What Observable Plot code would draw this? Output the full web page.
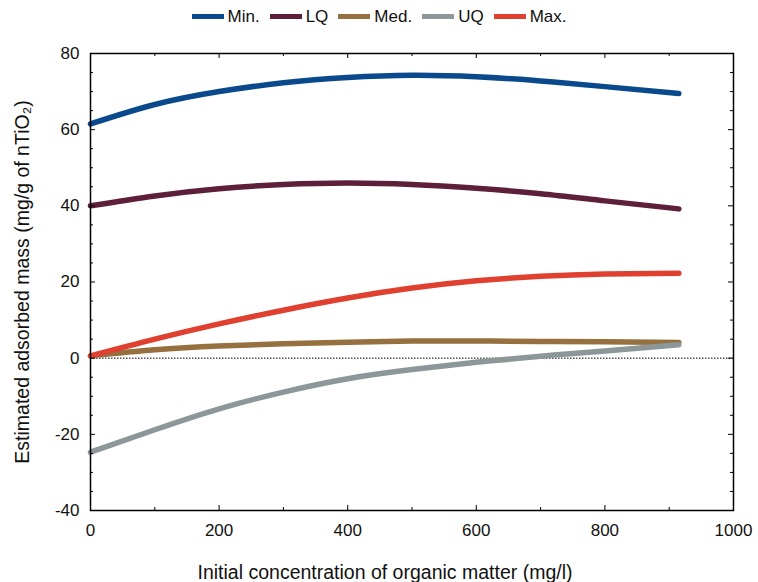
<!DOCTYPE html>
<html>
<head>
<meta charset="utf-8">
<script src="https://cdn.jsdelivr.net/npm/d3@7"></script>
<script src="https://cdn.jsdelivr.net/npm/@observablehq/plot@0.6"></script>
<style>
  html, body { margin: 0; padding: 0; background: #fff; }
  body { width: 758px; height: 582px; overflow: hidden; font-family: "Liberation Sans", Arial, sans-serif; }
  #legend { height: 30px; display: flex; justify-content: center; align-items: center; padding-top: 3px; box-sizing: border-box; font-size: 17px; color: #111; }
  .item { display: flex; align-items: center; margin: 0 5px; }
  .sw { width: 32px; height: 5px; margin-right: 4px; }
  svg { display: block; }
</style>
</head>
<body>
<div id="legend"></div>
<div id="chart"></div>
<script>
// Initial concentration of organic matter (mg/l)
const conc = [0, 100, 200, 300, 400, 500, 600, 700, 800, 915];
// Estimated adsorbed mass (mg/g of nTiO2)
const minV = [61.5, 66.6, 70.0, 72.3, 73.7, 74.3, 73.9, 72.8, 71.3, 69.5];
const lqV  = [40.0, 42.6, 44.5, 45.6, 46.0, 45.6, 44.6, 43.2, 41.3, 39.2];
const medV = [0.6, 2.2, 3.2, 3.8, 4.2, 4.5, 4.5, 4.4, 4.3, 4.1];
const uqV  = [-24.7, -18.8, -13.3, -8.9, -5.4, -3.0, -1.1, 0.5, 1.9, 3.5];
const maxV = [0.6, 5.0, 9.0, 12.6, 15.8, 18.4, 20.3, 21.5, 22.1, 22.3];

const seriesNames = ["Min.", "LQ", "Med.", "UQ", "Max."];
const seriesValues = [minV, lqV, medV, uqV, maxV];
const seriesColors = ["#0a4a8c", "#5e1f3a", "#96703f", "#8b9799", "#e0402f"];

const xTicks = [0, 200, 400, 600, 800, 1000];
const xMinorTicks = [100, 300, 500, 700, 900];
const yTicks = [-40, -20, 0, 20, 40, 60, 80];
const yMinorTicks = d3.range(-40, 81, 5).filter(v => v % 20 !== 0);

const xLabel = "Initial concentration of organic matter (mg/l)";
const yLabel = "Estimated adsorbed mass (mg/g of nTiO\u2082)";

const rows = seriesNames.flatMap((name, i) =>
  conc.map((c, j) => ({series: name, x: c, y: seriesValues[i][j]})));

// legend
const legend = document.getElementById("legend");
seriesNames.forEach((name, i) => {
  const it = document.createElement("div");
  it.className = "item";
  it.innerHTML = `<span class="sw" style="background:${seriesColors[i]}"></span><span>${name}</span>`;
  legend.appendChild(it);
});

const W = 758, H = 552, ML = 90, MR = 25, MT = 23, MB = 72;
const PW = W - ML - MR, PH = H - MT - MB;
const font = {fontSize: 17, fontFamily: "Liberation Sans, Arial, sans-serif"};
const titleFont = {fontSize: 19.5, fontFamily: "Liberation Sans, Arial, sans-serif"};
const fmt = d => String(d);
const MAJ = 5, MIN = 3;
const tk = {stroke: "#000", strokeWidth: 1};

const chart = Plot.plot({
  width: W,
  height: H,
  marginTop: MT,
  marginLeft: ML,
  marginRight: MR,
  marginBottom: MB,
  style: {fontFamily: "Liberation Sans, Arial, sans-serif", fontSize: "17px", color: "#111", background: "#fff"},
  x: {domain: [0, 1000]},
  y: {domain: [-40, 80]},
  marks: [
    Plot.ruleY([0], {stroke: "#000", strokeWidth: 1, strokeDasharray: "1.5,1.5"}),
    ...seriesNames.map((name, i) =>
      Plot.line(rows.filter(d => d.series === name), {
        x: "x", y: "y", stroke: seriesColors[i], strokeWidth: 5.5, curve: "natural"
      })),
    // tick labels
    Plot.axisX(xTicks, {anchor: "bottom", tickSize: 0, tickPadding: 13, tickFormat: fmt, label: null, ...font}),
    Plot.axisY(yTicks, {anchor: "left", tickSize: 0, tickPadding: 11, tickFormat: fmt, label: null, ...font}),
    // inward tick marks on all four sides
    Plot.tickX(xTicks, {x: d => d, insetTop: PH - MAJ, ...tk}),
    Plot.tickX(xMinorTicks, {x: d => d, insetTop: PH - MIN, ...tk}),
    Plot.tickX(xTicks, {x: d => d, insetBottom: PH - MAJ, ...tk}),
    Plot.tickX(xMinorTicks, {x: d => d, insetBottom: PH - MIN, ...tk}),
    Plot.tickY(yTicks, {y: d => d, insetRight: PW - MAJ, ...tk}),
    Plot.tickY(yMinorTicks, {y: d => d, insetRight: PW - MIN, ...tk}),
    Plot.tickY(yTicks, {y: d => d, insetLeft: PW - MAJ, ...tk}),
    Plot.tickY(yMinorTicks, {y: d => d, insetLeft: PW - MIN, ...tk}),
    Plot.frame({stroke: "#000", strokeWidth: 1.5}),
    // axis titles
    Plot.text([xLabel], {frameAnchor: "bottom", dx: -27, dy: 62, lineAnchor: "middle", textAnchor: "middle", fill: "#111", ...titleFont}),
    Plot.text([yLabel], {frameAnchor: "left", dx: -68, rotate: -90, lineAnchor: "middle", textAnchor: "middle", fill: "#111", ...titleFont})
  ]
});
document.getElementById("chart").appendChild(chart);
</script>
</body>
</html>
